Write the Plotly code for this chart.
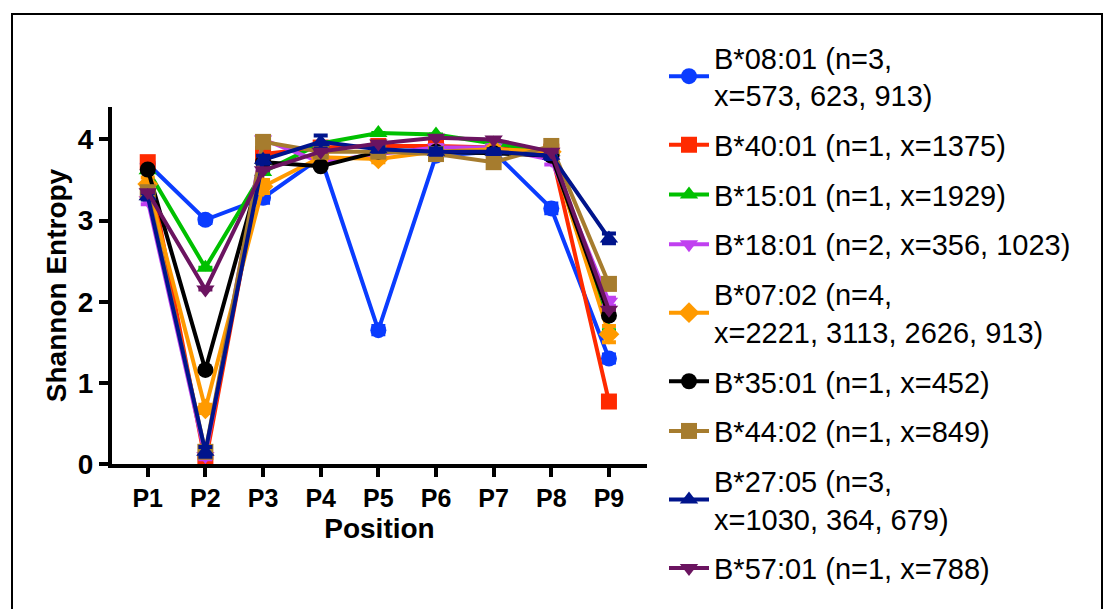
import plotly.graph_objects as go

positions = ["P1", "P2", "P3", "P4", "P5", "P6", "P7", "P8", "P9"]

names = [
    "B*08:01 (n=3,<br>x=573, 623, 913)",
    "B*40:01 (n=1, x=1375)",
    "B*15:01 (n=1, x=1929)",
    "B*18:01 (n=2, x=356, 1023)",
    "B*07:02 (n=4,<br>x=2221, 3113, 2626, 913)",
    "B*35:01 (n=1, x=452)",
    "B*44:02 (n=1, x=849)",
    "B*27:05 (n=3,<br>x=1030, 364, 679)",
    "B*57:01 (n=1, x=788)",
]

b0801 = [3.70, 3.01, 3.28, 3.78, 1.65, 3.80, 3.85, 3.15, 1.30]
b4001 = [3.72, 0.02, 3.82, 3.90, 3.92, 3.92, 3.90, 3.85, 0.77]
b1501 = [3.62, 2.42, 3.60, 3.95, 4.08, 4.06, 3.95, 3.85, 1.65]
b1801 = [3.25, 0.10, 4.00, 3.72, 3.82, 3.90, 3.90, 3.75, 2.00]
b0702 = [3.45, 0.68, 3.42, 3.78, 3.76, 3.85, 3.88, 3.85, 1.60]
b3501 = [3.63, 1.16, 3.72, 3.67, 3.85, 3.85, 3.83, 3.80, 1.83]
b4402 = [3.35, 0.15, 3.97, 3.85, 3.85, 3.82, 3.72, 3.92, 2.22]
b2705 = [3.30, 0.15, 3.75, 3.97, 3.88, 3.85, 3.85, 3.80, 2.78]
b5701 = [3.35, 2.15, 3.62, 3.85, 3.95, 4.02, 4.00, 3.85, 1.90]

err0801 = [0.04, 0.04, 0.06, 0.03, 0.05, 0.04, 0.03, 0.06, 0.05]
err1801 = [0.05, 0.04, 0.04, 0.04, 0.03, 0.03, 0.03, 0.06, 0.05]
err0702 = [0.08, 0.05, 0.08, 0.05, 0.04, 0.03, 0.03, 0.04, 0.10]
err2705 = [0.04, 0.06, 0.05, 0.08, 0.03, 0.04, 0.03, 0.04, 0.06]
err_none = [0, 0, 0, 0, 0, 0, 0, 0, 0]

series = [b0801, b4001, b1501, b1801, b0702, b3501, b4402, b2705, b5701]
errors = [err0801, err_none, err_none, err1801, err0702, err_none, err_none, err2705, err_none]
colors = ["#0A3CFF", "#FF2A00", "#00C000", "#C040F0", "#FF9A00", "#000000",
          "#A67C2E", "#00148C", "#6B1460"]
symbols = ["circle", "square", "triangle-up", "triangle-down", "diamond", "circle",
           "square", "triangle-up", "triangle-down"]

fig = go.Figure()
for i, (nm, ys, er, c, s) in enumerate(zip(names, series, errors, colors, symbols)):
    fig.add_trace(go.Scatter(
        x=positions, y=ys, name=nm, mode="lines+markers",
        line=dict(color=c, width=4),
        marker=dict(color=c, symbol=s, size=16),
        error_y=dict(type="data", array=er, visible=True, color=c,
                     thickness=4, width=7),
        legendgroup="g%d" % i,
    ))

L, R, T, B = 112, 458, 107, 145
W, H = 1105, 609
pw, ph = W - L - R, H - T - B


def px2x(px):
    return (px - L) / pw


def px2y(py):
    return (H - B - py) / ph


fig.add_shape(type="rect", xref="paper", yref="paper",
              x0=px2x(12), x1=px2x(1102), y0=px2y(640), y1=px2y(14),
              line=dict(color="black", width=2))

fig.update_layout(
    width=W, height=H,
    margin=dict(l=L, r=R, t=T, b=B),
    paper_bgcolor="white", plot_bgcolor="white",
    font=dict(family="Liberation Sans, Arial, sans-serif", color="black"),
    showlegend=True,
    legend=dict(x=px2x(664), y=px2y(32), xanchor="left", yanchor="top",
                font=dict(size=29, family="Liberation Sans, Arial, sans-serif"),
                tracegroupgap=9, itemwidth=40, bgcolor="rgba(0,0,0,0)",
                maxheight=1.0),
    xaxis=dict(
        range=[-0.62, 8.66], showline=True, linecolor="black", linewidth=4,
        ticks="outside", ticklen=9, tickwidth=4, tickcolor="black",
        showgrid=False, zeroline=False,
        tickfont=dict(size=25, family="Liberation Sans, Arial, sans-serif"),
        title=dict(text="<b>Position</b>", font=dict(size=28), standoff=8),
        tickprefix="<b>", ticksuffix="</b>",
    ),
    yaxis=dict(
        range=[0, 4.4], showline=True, linecolor="black", linewidth=4,
        ticks="outside", ticklen=9, tickwidth=4, tickcolor="black",
        tickvals=[0, 1, 2, 3, 4], ticktext=["<b>0</b>", "<b>1</b>", "<b>2</b>", "<b>3</b>", "<b>4</b>"],
        showgrid=False, zeroline=False,
        tickfont=dict(size=28, family="Liberation Sans, Arial, sans-serif"),
        title=dict(text="<b>Shannon Entropy</b>", font=dict(size=28), standoff=4),
    ),
)

fig.write_html("out.html", config={"displayModeBar": False},
               post_script="document.body.style.margin='0';")
